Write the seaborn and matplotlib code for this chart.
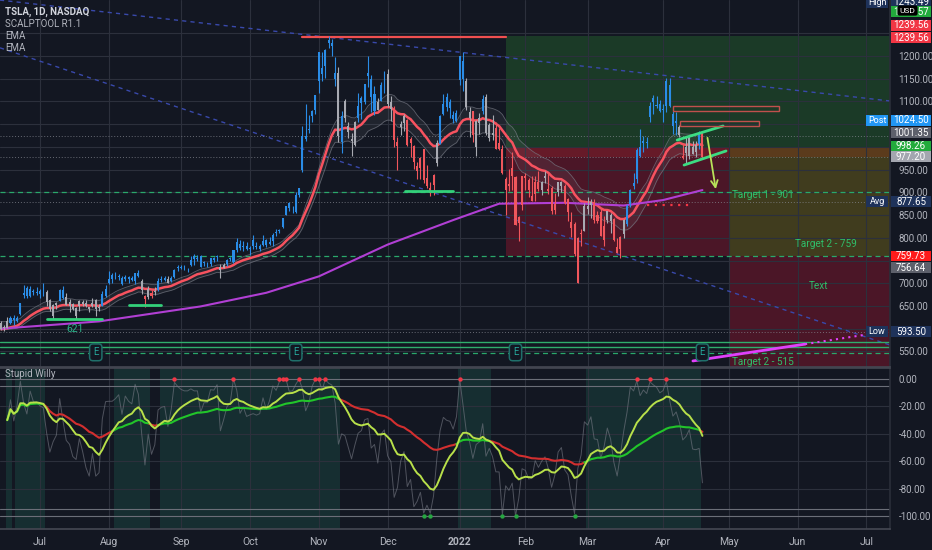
import numpy as np
import pandas as pd
import seaborn as sns
import matplotlib
matplotlib.use("Agg")
import matplotlib.pyplot as plt
import matplotlib.transforms as mtrans
from matplotlib import font_manager
from matplotlib.patches import Rectangle

# TSLA daily candles, 15 Jun 2021 .. 20 Apr 2022 (pre split), one row per month
opens = [
    612, 601, 601, 613, 624, 618, 632, 674, 689, 671, 684, 679,
    683, 679, 681, 664, 628, 653, 662, 686, 670, 658, 654, 629, 651, 659, 656, 647, 651, 663, 647, 650, 671,
    700, 719, 711, 716, 711, 710, 713, 712, 706, 723, 705, 673, 669, 678, 682, 685, 710, 707, 709, 705, 714, 733,
    734, 734, 733, 740, 761, 753, 759, 747, 745, 742, 752, 758, 735, 734, 743, 756, 746, 773, 787, 779, 781,
    778, 796, 780, 776, 785, 796, 787, 792, 811, 815, 823, 851, 877, 865, 856, 895, 950, 1024, 1040, 1069, 1081,
    1145, 1160, 1178, 1235, 1229, 1149, 1163, 1010, 1102, 1047, 1018, 1004, 1063, 1107, 1099, 1163, 1150, 1080, 1099, 1100, 1144,
    1160, 1099, 1084, 1002, 1044, 1053, 1060, 1008, 1001, 946, 953, 995, 914, 910, 916, 965, 1007, 1073, 1109, 1099, 1062, 1074,
    1147, 1189, 1146, 1077, 1080, 1000, 1053, 1078, 1110, 1020, 1027, 1042, 1009, 996, 905, 914, 953, 933, 832, 872,
    935, 928, 882, 897, 923, 906, 935, 908, 909, 861, 900, 915, 914, 886, 834, 830, 700, 809, 815,
    869, 872, 878, 850, 856, 795, 839, 851, 841, 780, 775, 809, 830, 874, 914, 930, 979, 1009, 1008, 1065, 1107, 1091, 1094,
    1081, 1089, 1137, 1073, 1052, 1044, 980, 1000, 981, 1000, 989, 1006, 1031,
]
highs = [
    616, 609, 625, 628, 631, 628, 657, 697, 694, 695, 687, 692,
    688, 700, 685, 665, 654, 658, 687, 693, 679, 666, 656, 647, 663, 664, 663, 648, 668, 666, 655, 684, 697,
    726, 722, 724, 720, 717, 719, 716, 716, 722, 729, 709, 675, 695, 686, 692, 712, 715, 716, 716, 715, 732, 740,
    741, 740, 734, 760, 764, 762, 762, 749, 747, 755, 758, 763, 743, 744, 753, 758, 774, 799, 795, 793, 790,
    781, 806, 791, 787, 806, 797, 801, 811, 820, 820, 843, 870, 878, 869, 900, 910, 1045, 1095, 1070, 1082, 1115,
    1209, 1208, 1215, 1243, 1238, 1197, 1175, 1078, 1105, 1054, 1031, 1057, 1119, 1113, 1139, 1201, 1159, 1133, 1108, 1142, 1168,
    1172, 1113, 1090, 1021, 1057, 1072, 1062, 1021, 1005, 966, 978, 995, 961, 922, 941, 1015, 1070, 1117, 1119, 1105, 1080, 1082,
    1201, 1209, 1152, 1088, 1080, 1059, 1075, 1114, 1116, 1052, 1070, 1054, 1041, 1004, 934, 951, 988, 935, 849, 937,
    943, 931, 937, 936, 947, 926, 946, 943, 915, 898, 923, 926, 918, 887, 856, 835, 802, 819, 876,
    889, 886, 886, 860, 866, 849, 860, 854, 843, 800, 805, 842, 875, 907, 942, 997, 1040, 1024, 1021, 1098, 1114, 1113, 1103,
    1094, 1152, 1152, 1080, 1076, 1049, 1008, 1022, 1026, 1013, 1014, 1034, 1035,
]
lows = [
    598, 595, 601, 611, 608, 615, 630, 668, 668, 670, 675, 675,
    668, 673, 650, 640, 621, 644, 662, 666, 652, 637, 642, 621, 640, 650, 647, 636, 647, 627, 639, 649, 670,
    698, 701, 709, 707, 697, 705, 701, 705, 699, 714, 676, 648, 665, 667, 674, 683, 702, 704, 700, 702, 712, 726,
    731, 730, 724, 739, 740, 750, 736, 738, 736, 738, 747, 750, 711, 733, 739, 749, 744, 769, 774, 770, 774,
    763, 776, 776, 771, 783, 780, 785, 782, 805, 811, 822, 850, 860, 854, 855, 890, 944, 1013, 1030, 1055, 1073,
    1118, 1145, 1152, 1218, 1201, 1134, 1011, 987, 1054, 1019, 979, 1002, 1055, 1062, 1094, 1132, 1077, 1070, 1081, 1100, 1118,
    1088, 1056, 1000, 950, 1027, 1034, 1002, 977, 951, 930, 929, 921, 909, 893, 895, 957, 1007, 1070, 1079, 1064, 1053, 1054,
    1136, 1123, 1081, 1021, 1010, 980, 1028, 1072, 1026, 1013, 1016, 995, 994, 940, 851, 903, 906, 829, 792, 862,
    905, 890, 880, 881, 902, 894, 920, 896, 852, 853, 893, 901, 874, 837, 802, 760, 700, 782, 814,
    853, 844, 832, 832, 804, 782, 832, 810, 793, 766, 756, 800, 825, 867, 907, 921, 977, 988, 997, 1054, 1072, 1086, 1076,
    1054, 1076, 1087, 1028, 1027, 1022, 974, 964, 973, 985, 978, 996, 975,
]
closes = [
    599, 604, 616, 623, 620, 624, 656, 679, 671, 688, 680, 680,
    677, 678, 659, 644, 652, 657, 685, 668, 653, 650, 644, 646, 660, 655, 649, 644, 657, 644, 646, 677, 687,
    709, 709, 711, 714, 699, 713, 709, 707, 722, 717, 686, 665, 688, 673, 680, 706, 708, 711, 701, 711, 730, 735,
    734, 733, 733, 752, 754, 754, 736, 744, 744, 755, 756, 760, 730, 740, 751, 753, 774, 791, 777, 781, 775,
    776, 782, 781, 782, 793, 785, 791, 806, 811, 818, 843, 870, 865, 866, 894, 910, 1025, 1018, 1037, 1078, 1115,
    1209, 1173, 1214, 1229, 1223, 1163, 1024, 1068, 1064, 1033, 1014, 1055, 1089, 1097, 1138, 1157, 1110, 1117, 1081, 1137, 1145,
    1095, 1084, 1015, 1010, 1051, 1068, 1004, 1017, 967, 959, 976, 927, 932, 899, 938, 1009, 1067, 1094, 1088, 1086, 1070, 1057,
    1200, 1149, 1088, 1064, 1026, 1058, 1064, 1106, 1031, 1049, 1030, 995, 996, 943, 930, 918, 937, 829, 846, 936,
    931, 905, 891, 923, 907, 922, 932, 904, 860, 875, 922, 923, 876, 856, 821, 764, 800, 810, 870,
    864, 879, 839, 838, 804, 825, 858, 838, 795, 766, 802, 840, 871, 905, 921, 993, 999, 1013, 1010, 1091, 1099, 1093, 1078,
    1084, 1145, 1091, 1045, 1057, 1026, 976, 986, 1022, 985, 1005, 1028, 977,
]

holidays = ["2021-07-05", "2021-09-06", "2021-11-25", "2021-12-24", "2022-01-17",
            "2022-02-21", "2022-04-15", "2022-05-30", "2022-06-20", "2022-07-04"]
first_day, last_day = "2021-06-15", "2022-07-29"

# slow moving average (purple) at some bars
ma_bars = [0, 30, 61, 81, 97, 118, 138, 152, 172, 190, 202, 214]
ma_vals = [600, 616, 649, 679, 715, 785, 839, 875, 877, 871, 883, 905]

# earnings bars
earn_bars = [29, 90, 157, 214]

# right price scale tags: (shown at, text, box colour)
tags = [
    (1318, "1243.49", "#1e325a"), (1297, "1239.57", "#22ab3c"),
    (1268, "1239.56", "#f23645"), (1240, "1239.56", "#f23645"),
    (1059, "1024.50", "#2196f3"), (1031, "1001.35", "#5d606b"),
    (1002, "998.26", "#22ab3c"), (978, "977.20", "#a3a6af"),
    (879, "877.65", "#1e325a"), (760, "759.73", "#ff1a1a"),
    (734, "756.64", "#5d606b"), (593, "593.50", "#1e325a"),
]
side_tags = [(1318, "High", "#1e325a"), (1059, "Post", "#2196f3"),
             (879, "Avg", "#1e325a"), (593, "Low", "#1e325a")]

price_levels = list(range(550, 1251, 50))
shown_levels = [550, 650, 700, 800, 850, 900, 950, 1100, 1150, 1200]
osc_levels = [0, -20, -40, -60, -80, -100]

BG = "#131722"
GRID = "#2c303c"
TXT = "#b2b5be"
BLUE, RED, GREY = "#2a8ce6", "#f0565c", "#a8aab2"

sns.set_theme(style="dark", rc={
    "axes.facecolor": BG, "figure.facecolor": BG, "axes.edgecolor": "#363a45",
    "axes.grid": True, "grid.color": GRID, "grid.linewidth": 0.8,
    "xtick.color": TXT, "ytick.color": TXT,
})
plt.rcParams["font.family"] = ["Roboto", "DejaVu Sans"]
names = {f.name for f in font_manager.fontManager.ttflist}
narrow = "Liberation Sans Narrow" if "Liberation Sans Narrow" in names else "Roboto"

# trading calendar -> bar index
days = pd.bdate_range(first_day, last_day)
days = days[~days.isin(pd.to_datetime(holidays))]
df = pd.DataFrame({"bar": np.arange(len(closes)), "open": opens, "high": highs,
                   "low": lows, "close": closes})
df["ema"] = df.close.ewm(span=21, adjust=False).mean()
df["upper"] = df.high.ewm(span=21, adjust=False).mean()
df["lower"] = df.low.ewm(span=21, adjust=False).mean()

# Williams %R and its two averages
hh = df.high.rolling(21, min_periods=3).max()
ll = df.low.rolling(21, min_periods=3).min()
df["wr"] = (hh - df.close) / (hh - ll) * -100
df["fast"] = df.wr.ewm(span=13).mean()
df["slow"] = df.wr.ewm(span=50).mean()

W, H = 932, 550
fig = plt.figure(figsize=(W / 100, H / 100), dpi=100)
ax = fig.add_axes([0, 1 - 367 / H, 890 / W, 367 / H])
osc = fig.add_axes([0, 1 - 529 / H, 890 / W, 161 / H], sharex=ax)

XMAX = 271.2
ax.set_xlim(-0.2, XMAX)
ax.set_ylim(515.7, 1323.2)
osc.set_ylim(-109.5, 8.1)
ax.set_axisbelow("line")

# month ticks
mstart = [i for i in range(len(days)) if i == 0 or days[i].month != days[i - 1].month][1:]
mlabels = [str(days[i].year) if days[i].month == 1 else days[i].strftime("%b") for i in mstart]
osc.set_xticks(mstart, mlabels)
osc.tick_params(axis="x", length=0, pad=6, labelsize=7.5, labelcolor=TXT)
for t in osc.get_xticklabels():
    if t.get_text() == "2022":
        t.set_fontweight("bold")
ax.tick_params(axis="x", labelbottom=False, length=0)

ax.yaxis.tick_right()
ax.set_yticks(price_levels, [f"{v:.2f}" if v in shown_levels else "" for v in price_levels])
ax.tick_params(axis="y", length=0, pad=6, labelsize=7, labelcolor=TXT)
osc.yaxis.tick_right()
osc.set_yticks(osc_levels, [f"{v:.2f}" for v in osc_levels])
osc.tick_params(axis="y", length=0, pad=6, labelsize=7, labelcolor=TXT)
for t in ax.get_yticklabels() + osc.get_yticklabels():
    t.set_fontfamily(narrow)

for a in (ax, osc):
    for s in ("left", "top"):
        a.spines[s].set_visible(False)
    a.spines["right"].set_color("#2a2e39")
    a.spines["bottom"].set_color("#434651")
osc.spines["top"].set_visible(True)
osc.spines["top"].set_color("#434651")

# position tool zones
zones = [
    (154.1, XMAX, 1000, 1243, "#1b3a27"),
    (154.1, 222.4, 759, 1000, "#4b1627"),
    (154.1, 222.4, 977, 1000, "#661a28"),
    (222.4, XMAX, 977, 1000, "#5b3b1c"),
    (222.4, XMAX, 759, 977, "#403c1e"),
    (222.4, XMAX, 515, 759, "#4b1627"),
]
for x0, x1, y0, y1, c in zones:
    ax.add_patch(Rectangle((x0, y0), x1 - x0, y1 - y0, facecolor=c, edgecolor="none", zorder=1))

# trend lines and levels
ax.plot([-0.2, XMAX], [1323, 1101], color="#3949ab", lw=1, ls=(0, (3, 3)), zorder=2)
ax.plot([-0.2, XMAX], [1218, 564], color="#3949ab", lw=1, ls=(0, (3, 3)), zorder=2)
for lvl in (901, 759, 546):
    ax.axhline(lvl, color="#2aa86b", lw=0.9, ls=(0, (4, 3)), zorder=2)
for lvl in (571, 560):
    ax.axhline(lvl, color="#2fae6c", lw=1, zorder=2)
for lvl in (1024.5, 977.2, 877.65, 593.5):
    ax.axhline(lvl, color="#8a8d96", lw=0.7, ls=(0, (1, 2)), alpha=0.7, zorder=2)
ax.plot([92, 154], [1241, 1241], color="#f05050", lw=1.6, zorder=3)
for x0, x1, y in [(14.1, 30.9, 621), (39.1, 48.9, 652), (123.3, 138, 902)]:
    ax.plot([x0, x1], [y, y], color="#33d17a", lw=2, zorder=6)
ax.text(22.7, 599, "621", color="#2bb38a", fontsize=7.5, ha="center", va="center", zorder=6)

# EMA band, EMA and slow average
ax.fill_between(df.bar, df.lower, df.upper, color="#9598a1", alpha=0.1, lw=0, zorder=2)
sns.lineplot(data=df, x="bar", y="upper", color="#787b86", lw=0.6, alpha=0.7, ax=ax, zorder=2)
sns.lineplot(data=df, x="bar", y="lower", color="#787b86", lw=0.6, alpha=0.7, ax=ax, zorder=2)
sns.lineplot(data=df, x="bar", y="ema", color="#f7525f", lw=1.8, ax=ax, zorder=3)
sns.lineplot(x=ma_bars, y=ma_vals, color="#b13fd4", lw=1.5, ax=ax, zorder=3)

# candles coloured by the band
col = np.where(df.close > df.upper, BLUE, np.where(df.close < df.lower, RED, GREY))
ax.vlines(df.bar, df.low, df.high, colors=col, lw=0.8, zorder=4)
body = (df.close - df.open).abs().clip(lower=1.5)
ax.bar(df.bar, body, bottom=np.minimum(df.open, df.close), width=0.62, color=col, lw=0, zorder=5)

# April drawings
ax.plot([206.3, 220.3], [1015, 1046], color="#3cdc82", lw=2, zorder=6)
ax.plot([208.4, 221.2], [960, 991], color="#3cdc82", lw=2, zorder=6)
ax.annotate("", xy=(218.2, 901), xytext=(215.4, 1026),
            arrowprops=dict(arrowstyle="->", color="#b8e35a", lw=1.3, mutation_scale=12), zorder=6)
for x0, x1, y0, y1 in [(205.1, 237.4, 1079, 1090), (207.2, 231.3, 1046, 1057)]:
    ax.add_patch(Rectangle((x0, y0), x1 - x0, y1 - y0, facecolor="none",
                           edgecolor="#c0504d", lw=1, zorder=6))
ax.plot([197, 211], [872, 872], color="#f23645", lw=1.6, ls=(0, (1, 2.5)), zorder=6)
ax.plot([211.1, 245.3], [529, 566], color="#e040fb", lw=2, zorder=6)
ax.plot([245.3, 263], [566, 586], color="#e040fb", lw=1.5, ls=(0, (1, 2)), zorder=6)

for x, y, s in [(232.5, 894, "Target 1 - 901"), (251.6, 787, "Target 2 - 759"),
                (249.5, 695, "Text"), (232.5, 527, "Target 2 - 515")]:
    ax.text(x, y, s, color="#2fbf6a", fontsize=7.2, ha="center", va="center", zorder=7)

for b in earn_bars:
    ax.text(b, 548, "E", color="#26a69a", fontsize=7, ha="center", va="center", zorder=7,
            bbox=dict(boxstyle="round,pad=0.35", fc=BG, ec="#1f6f6a", lw=1.1))

# price scale tags
tr = mtrans.blended_transform_factory(ax.transAxes, ax.transData)
for y, s, c in tags:
    ax.add_patch(Rectangle((1.0012, y - 12), 0.045, 24, transform=tr, facecolor=c,
                           edgecolor="none", clip_on=False, zorder=8))
    ax.text(1.0236, y, s, transform=tr, color="white", fontsize=7, fontfamily=narrow,
            ha="center", va="center", clip_on=False, zorder=9)
for y, s, c in side_tags:
    ax.add_patch(Rectangle((0.973, y - 12), 0.025, 24, transform=tr, facecolor=c,
                           edgecolor="none", clip_on=False, zorder=8))
    ax.text(0.9855, y, s, transform=tr, color="white", fontsize=6.5,
            ha="center", va="center", clip_on=False, zorder=9)
ax.text(1.0197, 1300, "USD", transform=tr, color="white", fontsize=6, ha="center", va="center",
        clip_on=False, zorder=10, bbox=dict(boxstyle="round,pad=0.25", fc="#000000", ec="none"))

# oscillator
up = df.fast >= df.slow
runs = (up != up.shift()).cumsum()
for _, g in df[up].groupby(runs[up]):
    osc.axvspan(g.bar.iloc[0] - 0.5, g.bar.iloc[-1] + 0.5, color="#162e31", lw=0, zorder=0)
for lvl in (0, -5, -95, -100):
    osc.axhline(lvl, color="#6b6e78", lw=0.8, zorder=1)
sns.lineplot(data=df, x="bar", y="wr", color="#787b86", lw=0.7, alpha=0.6, ax=osc, zorder=2)
slow_red = df.slow.where(~up | (~up).shift(-1, fill_value=False))
slow_green = df.slow.where(up | up.shift(-1, fill_value=False))
osc.plot(df.bar, slow_red, color="#d32f2f", lw=1.5, zorder=3)
osc.plot(df.bar, slow_green, color="#22c52a", lw=1.5, zorder=3)
sns.lineplot(data=df, x="bar", y="fast", color="#b8e04a", lw=1.4, ax=osc, zorder=4)
hi = df[(df.bar >= 13) & (df.wr > -3)]
lo = df[(df.bar >= 13) & (df.wr < -97)]
sns.scatterplot(x=hi.bar, y=np.zeros(len(hi)), color="#f23645", s=10, lw=0, ax=osc, zorder=5)
sns.scatterplot(x=lo.bar, y=np.full(len(lo), -100), color="#26a641", s=10, lw=0, ax=osc, zorder=5)

for a in (ax, osc):
    a.set_xlabel("")
    a.set_ylabel("")

# legends
fig.text(5 / W, 1 - 12 / H, "TSLA, 1D, NASDAQ", color="#d1d4dc", fontsize=7, fontweight="bold", va="center")
for i, s in enumerate(["SCALPTOOL R1.1", "EMA", "EMA"]):
    fig.text(5 / W, 1 - (24 + 12 * i) / H, s, color=TXT, fontsize=7, va="center")
fig.text(5 / W, 1 - 374 / H, "Stupid Willy", color=TXT, fontsize=7, va="center")

fig.savefig("out.png", dpi=100, facecolor=BG)
